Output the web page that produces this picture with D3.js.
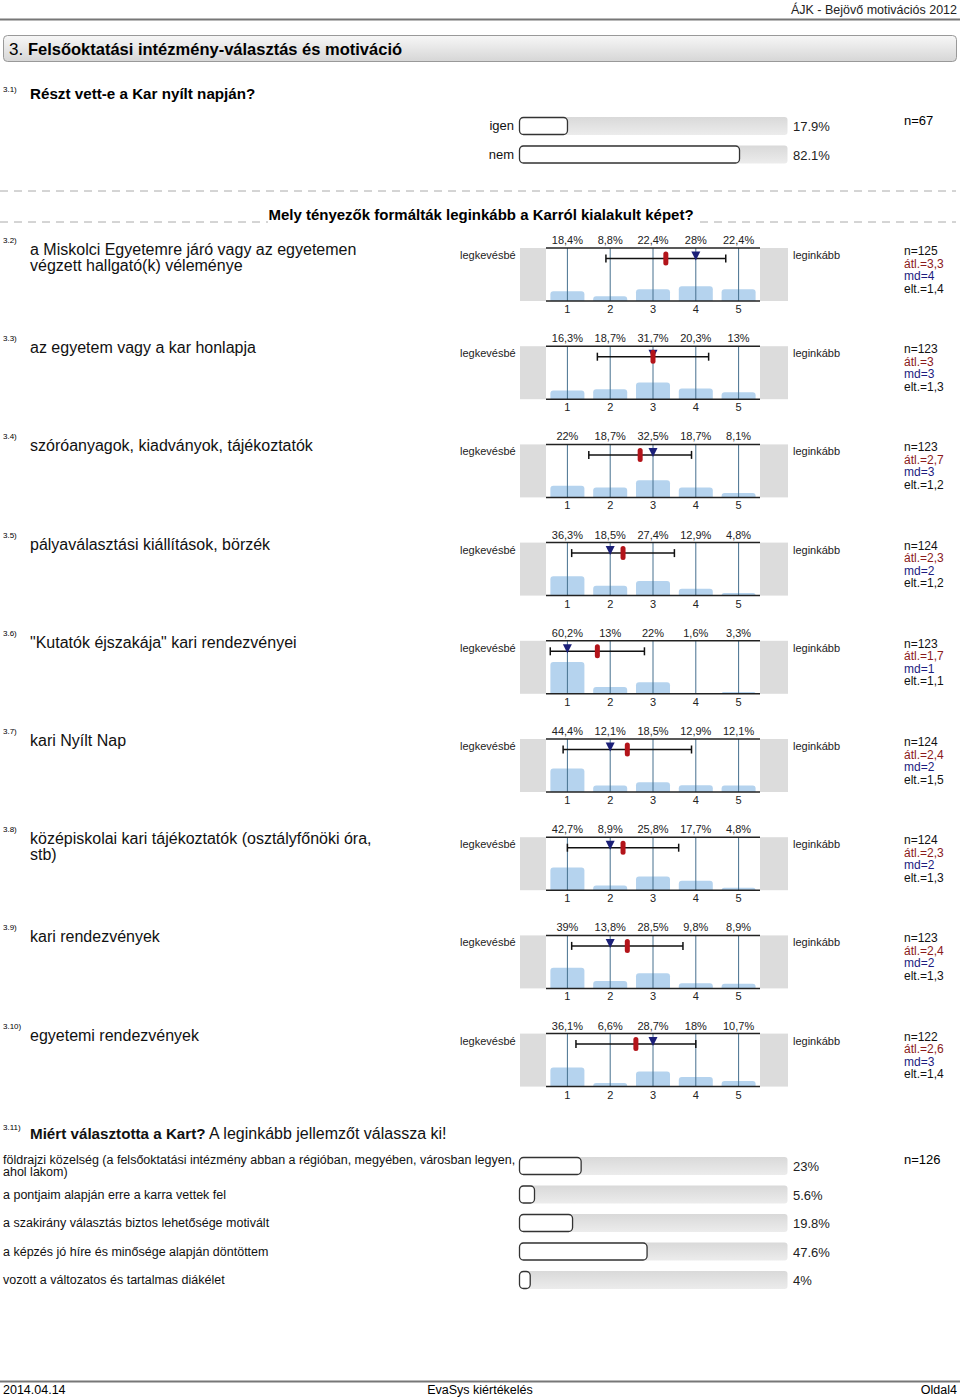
<!DOCTYPE html>
<html>
<head>
<meta charset="utf-8">
<script src="https://cdn.jsdelivr.net/npm/d3@7"></script>
<style>
  body { margin: 0; background: #fff; }
  svg { display: block; font-family: "Liberation Sans", Arial, sans-serif; }
</style>
</head>
<body>
<div id="chart"></div>
<script>
const q1Labels = ['igen', 'nem'];
const q1Values = [17.9, 82.1];
const q1N = 67;

const scaleIds = ['3.2)', '3.3)', '3.4)', '3.5)', '3.6)', '3.7)', '3.8)', '3.9)', '3.10)'];
const scaleQuestions = [
  ['a Miskolci Egyetemre járó vagy az egyetemen', 'végzett hallgató(k) véleménye'],
  ['az egyetem vagy a kar honlapja'],
  ['szóróanyagok, kiadványok, tájékoztatók'],
  ['pályaválasztási kiállítások, börzék'],
  ['"Kutatók éjszakája" kari rendezvényei'],
  ['kari Nyílt Nap'],
  ['középiskolai kari tájékoztatók (osztályfőnöki óra,', 'stb)'],
  ['kari rendezvények'],
  ['egyetemi rendezvények']
];
const scaleDist = [
  [18.4, 8.8, 22.4, 28, 22.4],
  [16.3, 18.7, 31.7, 20.3, 13],
  [22, 18.7, 32.5, 18.7, 8.1],
  [36.3, 18.5, 27.4, 12.9, 4.8],
  [60.2, 13, 22, 1.6, 3.3],
  [44.4, 12.1, 18.5, 12.9, 12.1],
  [42.7, 8.9, 25.8, 17.7, 4.8],
  [39, 13.8, 28.5, 9.8, 8.9],
  [36.1, 6.6, 28.7, 18, 10.7]
];
const scaleN = [125, 123, 123, 124, 123, 124, 124, 123, 122];
const scaleMean = [3.3, 3, 2.7, 2.3, 1.7, 2.4, 2.3, 2.4, 2.6];
const scaleMedian = [4, 3, 3, 2, 1, 2, 2, 2, 3];
const scaleSd = [1.4, 1.3, 1.2, 1.2, 1.1, 1.5, 1.3, 1.3, 1.4];
const scaleTicks = [1, 2, 3, 4, 5];

const q11Labels = [
  ['földrajzi közelség (a felsőoktatási intézmény abban a régióban, megyében, városban legyen,', 'ahol lakom)'],
  ['a pontjaim alapján erre a karra vettek fel'],
  ['a szakirány választás biztos lehetősége motivált'],
  ['a képzés jó híre és minősége alapján döntöttem'],
  ['vozott a változatos és tartalmas diákélet']
];
const q11Values = [23, 5.6, 19.8, 47.6, 4];
const q11N = 126;

// --- drawing ---
const W = 960, H = 1399;
const svg = d3.select('#chart').append('svg').attr('width', W).attr('height', H);

const defs = svg.append('defs');
const g1 = defs.append('linearGradient').attr('id', 'hdr').attr('x1', 0).attr('y1', 0).attr('x2', 0).attr('y2', 1);
g1.append('stop').attr('offset', '0%').attr('stop-color', '#f7f7f7');
g1.append('stop').attr('offset', '100%').attr('stop-color', '#d6d6d6');
const g2 = defs.append('linearGradient').attr('id', 'track').attr('x1', 0).attr('y1', 0).attr('x2', 0).attr('y2', 1);
g2.append('stop').attr('offset', '0%').attr('stop-color', '#d9d9d9');
g2.append('stop').attr('offset', '100%').attr('stop-color', '#ececec');

const comma = v => String(v).replace('.', ',');

// page header
svg.append('text').attr('x', 957).attr('y', 14).attr('text-anchor', 'end')
  .attr('font-size', 12.5).attr('fill', '#222').text('ÁJK - Bejövő motivációs 2012');
svg.append('line').attr('x1', 0).attr('x2', W).attr('y1', 19.5).attr('y2', 19.5)
  .attr('stroke', '#777').attr('stroke-width', 2);

svg.append('rect').attr('x', 3.5).attr('y', 35.5).attr('width', 953).attr('height', 26)
  .attr('rx', 4).attr('fill', 'url(#hdr)').attr('stroke', '#999');
const sec = svg.append('text').attr('x', 9).attr('y', 55).attr('fill', '#000');
sec.append('tspan').attr('font-size', 17).text('3. ');
sec.append('tspan').attr('font-size', 16.5).attr('font-weight', 'bold').text('Felsőoktatási intézmény-választás és motiváció');

// horizontal percentage bars (single choice questions)
const barX = d3.scaleLinear().domain([0, 100]).range([519.5, 787.5]);

function choiceRows(labels, values, y0, labelX, anchor, fmt) {
  values.forEach((v, i) => {
    const y = y0 + i * 28.5;
    const lines = labels[i];
    const t = svg.append('text').attr('x', labelX).attr('text-anchor', anchor)
      .attr('font-size', anchor === 'end' ? 13 : 12.5).attr('fill', '#111');
    if (lines.length === 1) {
      t.attr('y', y + 13).text(lines[0]);
    } else {
      lines.forEach((s, k) => t.append('tspan').attr('x', labelX).attr('y', y + 7 + k * 12).text(s));
    }
    svg.append('rect').attr('x', barX(0)).attr('y', y).attr('width', barX(100) - barX(0))
      .attr('height', 18).attr('rx', 3).attr('fill', 'url(#track)');
    svg.append('rect').attr('x', barX(0)).attr('y', y + 0.5).attr('width', barX(v) - barX(0))
      .attr('height', 17).attr('rx', 4).attr('fill', '#fff').attr('stroke', '#333').attr('stroke-width', 1.3);
    svg.append('text').attr('x', 793).attr('y', y + 14).attr('font-size', 13).attr('fill', '#222').text(fmt(v));
  });
}

// 3.1
svg.append('text').attr('x', 3).attr('y', 92).attr('font-size', 8).text('3.1)');
svg.append('text').attr('x', 30).attr('y', 99).attr('font-size', 15.2).attr('font-weight', 'bold')
  .text('Részt vett-e a Kar nyílt napján?');
choiceRows(q1Labels.map(d => [d]), q1Values, 117, 514, 'end', v => v + '%');
svg.append('text').attr('x', 904).attr('y', 125).attr('font-size', 13).text('n=' + q1N);

// dashed separators
[191, 222].forEach(y => {
  svg.append('line').attr('x1', 0).attr('x2', 956).attr('y1', y).attr('y2', y)
    .attr('stroke', '#aaa').attr('stroke-dasharray', '8,6');
});
svg.append('rect').attr('x', 268).attr('y', 205).attr('width', 426).attr('height', 20).attr('fill', '#fff');
svg.append('text').attr('x', 481).attr('y', 220).attr('text-anchor', 'middle').attr('font-size', 15)
  .attr('font-weight', 'bold').text('Mely tényezők formálták leginkább a Karról kialakult képet?');

// scale questions
const x = d3.scaleLinear().domain([0.5, 5.5]).range([546, 760]);
const boxH = 53;
const bandW = 34;

scaleDist.forEach((dist, i) => {
  const top = 248 + i * 98.2;
  const bot = top + boxH;
  const g = svg.append('g');
  const y = d3.scaleLinear().domain([0, 100]).range([bot, top]);

  g.append('text').attr('x', 3).attr('y', top - 5).attr('font-size', 8).text(scaleIds[i]);
  scaleQuestions[i].forEach((s, k) => {
    g.append('text').attr('x', 30).attr('y', top + 7 + k * 16).attr('font-size', 16).attr('fill', '#111').text(s);
  });

  g.append('text').attr('x', 460).attr('y', top + 11).attr('font-size', 11).attr('fill', '#222').text('legkevésbé');
  g.append('text').attr('x', 793).attr('y', top + 11).attr('font-size', 11).attr('fill', '#222').text('leginkább');

  g.append('rect').attr('x', 520).attr('y', top).attr('width', x(0.5) - 520).attr('height', boxH).attr('fill', '#dcdcdc');
  g.append('rect').attr('x', x(5.5)).attr('y', top).attr('width', 788 - x(5.5)).attr('height', boxH).attr('fill', '#dcdcdc');

  g.selectAll('.bar').data(dist).enter().append('path')
    .attr('fill', '#b5d3ee')
    .attr('d', (d, k) => {
      const x0 = x(scaleTicks[k]) - bandW / 2, x1 = x0 + bandW, yt = y(d), r = Math.min(3, (bot - yt));
      return `M${x0},${bot}V${yt + r}Q${x0},${yt} ${x0 + r},${yt}H${x1 - r}Q${x1},${yt} ${x1},${yt + r}V${bot}Z`;
    });

  g.selectAll('.vl').data(scaleTicks).enter().append('line')
    .attr('x1', d => x(d)).attr('x2', d => x(d)).attr('y1', top).attr('y2', bot)
    .attr('stroke', '#46708f').attr('stroke-width', 1);

  g.append('line').attr('x1', x(0.5)).attr('x2', x(5.5)).attr('y1', top).attr('y2', top).attr('stroke', '#222').attr('stroke-width', 1.5);
  g.append('line').attr('x1', x(0.5)).attr('x2', x(5.5)).attr('y1', bot).attr('y2', bot).attr('stroke', '#222').attr('stroke-width', 1.5);

  g.selectAll('.pct').data(dist).enter().append('text')
    .attr('x', (d, k) => x(scaleTicks[k])).attr('y', top - 4).attr('text-anchor', 'middle')
    .attr('font-size', 11).attr('fill', '#222').text(d => comma(d) + '%');

  g.selectAll('.tk').data(scaleTicks).enter().append('text')
    .attr('x', d => x(d)).attr('y', bot + 12).attr('text-anchor', 'middle')
    .attr('font-size', 11).attr('fill', '#222').text(d => d);

  // mean +/- sd
  const ey = top + 10.5;
  const lo = scaleMean[i] - scaleSd[i], hi = scaleMean[i] + scaleSd[i];
  g.append('line').attr('x1', x(lo)).attr('x2', x(hi)).attr('y1', ey).attr('y2', ey).attr('stroke', '#111').attr('stroke-width', 1.5);
  [lo, hi].forEach(v => g.append('line').attr('x1', x(v)).attr('x2', x(v)).attr('y1', ey - 4).attr('y2', ey + 4)
    .attr('stroke', '#111').attr('stroke-width', 1.5));
  const mx = x(scaleMedian[i]);
  g.append('path').attr('d', `M${mx - 4.5},${top + 3.5}H${mx + 4.5}L${mx},${top + 12.5}Z`).attr('fill', '#1b1f78');
  g.append('rect').attr('x', x(scaleMean[i]) - 2.5).attr('y', ey - 7).attr('width', 5).attr('height', 14)
    .attr('rx', 2.5).attr('fill', '#b3141a');

  const stats = [
    ['n=' + scaleN[i], '#111'],
    ['átl.=' + comma(scaleMean[i]), '#8a1a1a'],
    ['md=' + scaleMedian[i], '#1c1c80'],
    ['elt.=' + comma(scaleSd[i]), '#111']
  ];
  stats.forEach((s, k) => g.append('text').attr('x', 904).attr('y', top + 7 + k * 12.5)
    .attr('font-size', 12).attr('fill', s[1]).text(s[0]));
});

// 3.11
svg.append('text').attr('x', 3).attr('y', 1130).attr('font-size', 8).text('3.11)');
const t11 = svg.append('text').attr('x', 30).attr('y', 1139).attr('fill', '#111');
t11.append('tspan').attr('font-size', 15.2).attr('font-weight', 'bold').text('Miért választotta a Kart?');
t11.append('tspan').attr('font-size', 16).text(' A leginkább jellemzőt válassza ki!');
choiceRows(q11Labels, q11Values, 1157, 3, 'start', v => v + '%');
svg.append('text').attr('x', 904).attr('y', 1164).attr('font-size', 13).text('n=' + q11N);

// footer
svg.append('line').attr('x1', 0).attr('x2', W).attr('y1', 1381.5).attr('y2', 1381.5)
  .attr('stroke', '#777').attr('stroke-width', 2);
svg.append('text').attr('x', 3).attr('y', 1394).attr('font-size', 12.5).text('2014.04.14');
svg.append('text').attr('x', 480).attr('y', 1394).attr('text-anchor', 'middle').attr('font-size', 12.5).text('EvaSys kiértékelés');
svg.append('text').attr('x', 957).attr('y', 1394).attr('text-anchor', 'end').attr('font-size', 12.5).text('Oldal4');
</script>
</body>
</html>
